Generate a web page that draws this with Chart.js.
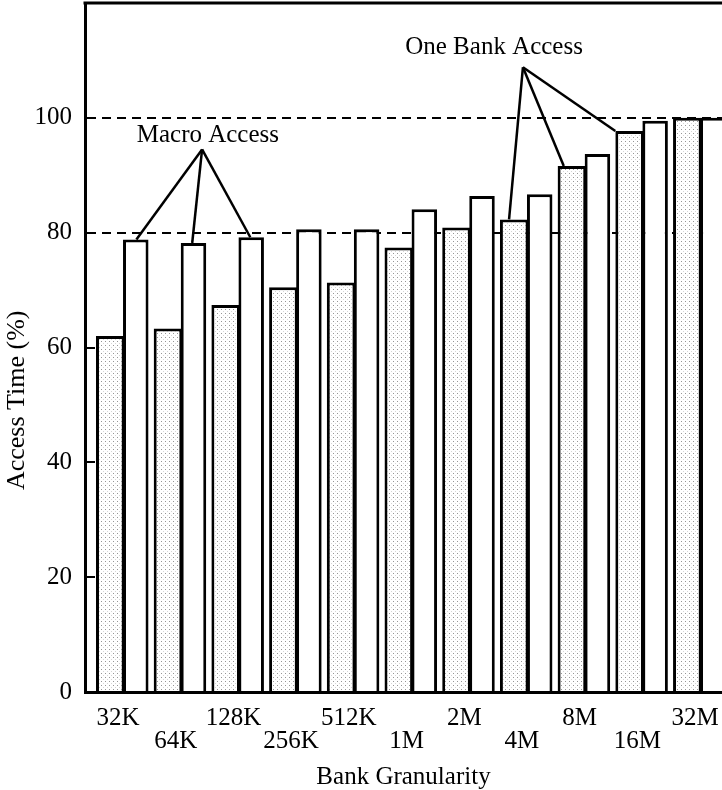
<!DOCTYPE html>
<html>
<head>
<meta charset="utf-8">
<title>Bank Granularity vs Access Time</title>
<script src="https://cdn.jsdelivr.net/npm/chart.js@4.4.1/dist/chart.umd.min.js"></script>
<style>
  html, body { margin: 0; padding: 0; background: #fff; overflow: hidden; }
  canvas { display: block; }
</style>
</head>
<body>
<canvas id="granChart" width="722" height="790"></canvas>
<script>
// bank sizes along the x axis
const granularity = ['32K', '64K', '128K', '256K', '512K', '1M', '2M', '4M', '8M', '16M', '32M'];
// access time in percent, stippled bars
const oneBankAccess = [62.0, 63.3, 67.4, 70.5, 71.3, 77.4, 80.9, 82.3, 91.6, 97.7, 100];
// access time in percent, plain bars
const macroAccess = [78.8, 78.2, 79.2, 80.6, 80.6, 84.1, 86.4, 86.7, 93.7, 99.5, 100];
const yTickValues = [0, 20, 40, 60, 80, 100];
const refLines = [80, 100];

const SERIF = "'Liberation Serif', 'Times New Roman', serif";

// light gray stipple used for the one-bank bars
function stipple() {
  const c = document.createElement('canvas');
  c.width = 4;
  c.height = 4;
  const g = c.getContext('2d');
  g.fillStyle = '#ffffff';
  g.fillRect(0, 0, 4, 4);
  g.fillStyle = '#959595';
  g.fillRect(1, 1, 1, 1);
  g.fillStyle = '#d6d6d6';
  g.fillRect(3, 3, 1, 1);
  return g.createPattern(c, 'repeat');
}

// callouts: label, anchor in data units, and which bars they point at
const callouts = [
  { text: 'Macro Access', at: [1.47, 97.0], apex: [1.37, 94.5], dataset: 1, bars: [[0, 0.05], [1, -0.1], [2, -0.07]] },
  { text: 'One Bank Access', at: [6.43, 112.3], apex: [6.93, 108.8], dataset: 0, bars: [[7, -0.36], [8, -0.57], [9, -1.0]] }
];

const decor = {
  id: 'decor',
  afterDatasetsDraw(chart) {
    const { ctx, chartArea, scales } = chart;
    const x = scales.x, y = scales.y;
    ctx.save();
    ctx.strokeStyle = '#000';
    ctx.fillStyle = '#000';

    // frame line along the top
    ctx.lineWidth = 3;
    ctx.beginPath();
    ctx.moveTo(chartArea.left - 1.5, chartArea.top);
    ctx.lineTo(chartArea.right, chartArea.top);
    ctx.stroke();

    // tick marks pointing into the plot
    ctx.lineWidth = 2;
    yTickValues.forEach(v => {
      const py = Math.round(y.getPixelForValue(v));
      ctx.beginPath();
      ctx.moveTo(chartArea.left, py);
      ctx.lineTo(chartArea.left + 10, py);
      ctx.stroke();
    });

    // callout labels and leader lines
    ctx.font = '25px ' + SERIF;
    ctx.textAlign = 'center';
    ctx.textBaseline = 'middle';
    callouts.forEach(c => {
      ctx.fillText(c.text, x.getPixelForValue(c.at[0]), y.getPixelForValue(c.at[1]));
      const ax = x.getPixelForValue(c.apex[0]);
      const ay = y.getPixelForValue(c.apex[1]);
      const meta = chart.getDatasetMeta(c.dataset);
      ctx.lineWidth = 2.5;
      c.bars.forEach(([i, f]) => {
        const bar = meta.data[i];
        ctx.beginPath();
        ctx.moveTo(ax, ay);
        ctx.lineTo(bar.x + f * bar.width / 2, bar.y);
        ctx.stroke();
      });
    });

    // y axis title
    ctx.save();
    ctx.font = '26px ' + SERIF;
    ctx.translate(17, y.getPixelForValue(50.8));
    ctx.rotate(-Math.PI / 2);
    ctx.fillText('Access Time (%)', 0, 0);
    ctx.restore();

    ctx.restore();
  }
};

new Chart(document.getElementById('granChart'), {
  type: 'bar',
  data: {
    datasets: [
      {
        label: 'One Bank Access',
        data: oneBankAccess.map((v, i) => ({ x: i, y: v })),
        backgroundColor: stipple(),
        borderColor: '#000',
        borderWidth: 3,
        borderSkipped: 'bottom',
        categoryPercentage: 0.884,
        barPercentage: 1.12
      },
      {
        label: 'Macro Access',
        data: macroAccess.map((v, i) => ({ x: i, y: v })),
        backgroundColor: '#ffffff',
        borderColor: '#000',
        borderWidth: 3,
        borderSkipped: 'bottom',
        categoryPercentage: 0.884,
        barPercentage: 1.0
      }
    ]
  },
  options: {
    responsive: false,
    animation: false,
    layout: { padding: { top: 3, right: 0, bottom: 0, left: 0 } },
    plugins: {
      legend: { display: false },
      tooltip: { enabled: false }
    },
    scales: {
      x: {
        type: 'linear',
        offset: false,
        min: -0.659,
        max: 10.38,
        afterBuildTicks: scale => {
          scale.ticks = granularity.map((_, i) => ({ value: i }));
        },
        afterFit: scale => {
          scale.height = 98;
          scale.paddingLeft = 0;
          scale.paddingRight = 0;
        },
        grid: { display: false, offset: false },
        border: { display: true, color: '#000', width: 3 },
        ticks: {
          autoSkip: false,
          maxRotation: 0,
          padding: 7,
          labelOffset: -5,
          color: '#000',
          font: { family: SERIF, size: 25, lineHeight: 0.92 },
          // every other label drops one line
          callback: value => {
            const i = Math.round(value);
            return i % 2 ? ['', granularity[i]] : granularity[i];
          }
        },
        title: {
          display: true,
          text: 'Bank Granularity',
          color: '#000',
          font: { family: SERIF, size: 25, lineHeight: 1 },
          padding: { top: 0, bottom: 0 }
        }
      },
      y: {
        min: 0,
        max: 120,
        afterBuildTicks: scale => {
          scale.ticks = yTickValues.map(v => ({ value: v }));
        },
        afterFit: scale => {
          scale.width = 85;
          scale.paddingTop = 0;
          scale.paddingBottom = 0;
        },
        grid: {
          drawTicks: false,
          lineWidth: 2,
          color: c => (c.tick && refLines.includes(c.tick.value) ? '#000' : 'rgba(0,0,0,0)')
        },
        border: { display: true, color: '#000', width: 3, dash: [9, 6] },
        ticks: {
          padding: 13,
          color: '#000',
          font: { family: SERIF, size: 25 }
        }
      }
    }
  },
  plugins: [decor]
});
</script>
</body>
</html>
